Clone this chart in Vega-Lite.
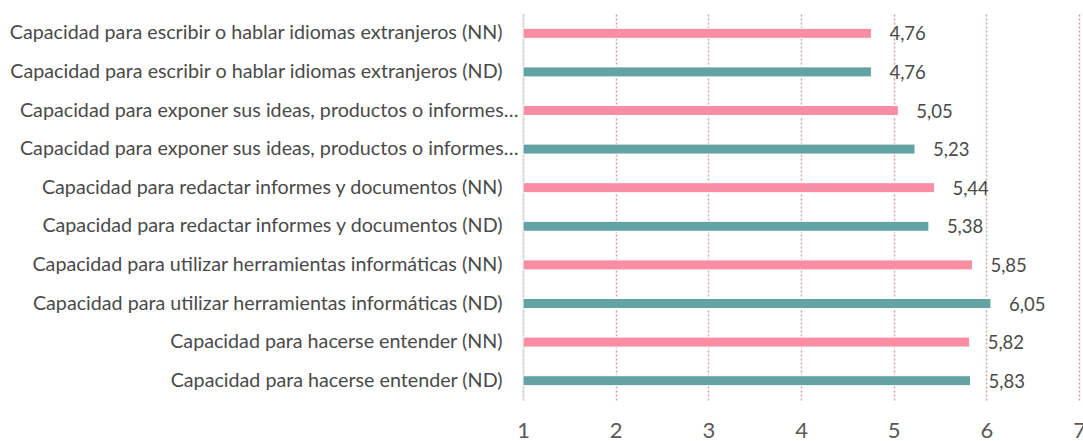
{
  "$schema": "https://vega.github.io/schema/vega-lite/v6.json",
  "autosize": {"type": "none"},
  "width": 556,
  "height": 386,
  "padding": {"left": 523, "top": 14, "right": 4, "bottom": 41},
  "background": "white",
  "config": {
    "locale": {"number": {"decimal": ",", "thousands": ".", "grouping": [3], "currency": ["", " €"]}},
    "view": {"stroke": null},
    "font": "Lato"
  },
  "data": {
    "values": [
      {"item": "Capacidad para escribir o hablar idiomas extranjeros (NN)", "grupo": "NN", "valor": 4.76},
      {"item": "Capacidad para escribir o hablar idiomas extranjeros (ND)", "grupo": "ND", "valor": 4.76},
      {"item": "Capacidad para exponer sus ideas, productos o informes en público (NN)", "grupo": "NN", "valor": 5.05},
      {"item": "Capacidad para exponer sus ideas, productos o informes en público (ND)", "grupo": "ND", "valor": 5.23},
      {"item": "Capacidad para redactar informes y documentos (NN)", "grupo": "NN", "valor": 5.44},
      {"item": "Capacidad para redactar informes y documentos (ND)", "grupo": "ND", "valor": 5.38},
      {"item": "Capacidad para utilizar herramientas informáticas (NN)", "grupo": "NN", "valor": 5.85},
      {"item": "Capacidad para utilizar herramientas informáticas (ND)", "grupo": "ND", "valor": 6.05},
      {"item": "Capacidad para hacerse entender (NN)", "grupo": "NN", "valor": 5.82},
      {"item": "Capacidad para hacerse entender (ND)", "grupo": "ND", "valor": 5.83}
    ]
  },
  "encoding": {
    "y": {
      "field": "item", "type": "nominal", "sort": null,
      "axis": {
        "title": null, "ticks": false, "domain": true, "domainColor": "#D9D9D9", "domainWidth": 1.5,
        "labelFontSize": 19.7, "labelColor": "#4A4A4A", "labelLimit": 700,
        "labelPadding": {"condition": {"test": "indexof(datum.label, 'exponer') >= 0", "value": 5}, "value": 21},
        "labelExpr": "indexof(datum.label, 'exponer') >= 0 ? 'Capacidad para exponer sus ideas, productos o informes…' : datum.label"
      }
    }
  },
  "layer": [
    {
      "mark": {"type": "bar", "size": 10, "stroke": "white", "strokeWidth": 1},
      "encoding": {
        "x": {
          "field": "valor", "type": "quantitative",
          "scale": {"domain": [1, 7], "zero": false, "nice": false},
          "axis": {
            "title": null, "values": [1, 2, 3, 4, 5, 6, 7], "ticks": false, "domain": false,
            "grid": true, "gridColor": "#C6A7A2", "gridDash": [2, 2], "gridWidth": 1.5,
            "labelFontSize": 22, "labelColor": "#595959", "labelPadding": 20, "labelFlush": false, "format": "d"
          }
        },
        "x2": {"datum": 1},
        "color": {
          "field": "grupo", "type": "nominal",
          "scale": {"domain": ["NN", "ND"], "range": ["#F88DA4", "#63A3A4"]},
          "legend": null
        }
      }
    },
    {
      "mark": {"type": "text", "align": "left", "baseline": "middle", "dx": 18, "dy": 1, "fontSize": 18.5, "color": "#4A4A4A"},
      "encoding": {
        "x": {"field": "valor", "type": "quantitative"},
        "text": {"field": "valor", "type": "quantitative", "format": ".2f"}
      }
    }
  ]
}
